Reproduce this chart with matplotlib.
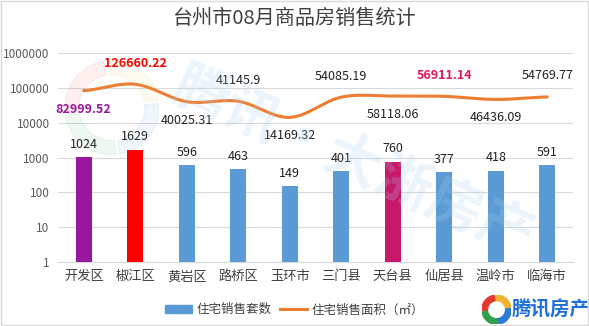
import numpy as np
import matplotlib

matplotlib.use("Agg")
import matplotlib.pyplot as plt
from matplotlib.patches import Wedge, Rectangle
from matplotlib.lines import Line2D

plt.rcParams["font.family"] = ["Noto Sans CJK SC", "DejaVu Sans"]

districts = ["开发区", "椒江区", "黄岩区", "路桥区", "玉环市", "三门县", "天台县", "仙居县", "温岭市", "临海市"]
units_sold = [1024, 1629, 596, 463, 149, 401, 760, 377, 418, 591]
area_sold = [82999.52, 126660.22, 40025.31, 41145.9, 14169.32, 54085.19, 58118.06, 56911.14, 46436.09, 54769.77]
area_label_above = [False, True, False, True, False, True, False, True, False, True]
area_label_colors = ["#9A169F", "#FF0000", "#222222", "#222222", "#222222",
                     "#222222", "#222222", "#E0185F", "#222222", "#222222"]
bar_colors = ["#9A169F", "#FF0000", "#5B9BD5", "#5B9BD5", "#5B9BD5",
              "#5B9BD5", "#C8186A", "#5B9BD5", "#5B9BD5", "#5B9BD5"]
y_ticks = [1, 10, 100, 1000, 10000, 100000, 1000000]


def smooth(x, y, n=20):
    """Catmull-Rom curve through the points (in log space for y)."""
    x = np.asarray(x, float)
    y = np.log10(np.asarray(y, float))
    px = np.concatenate([[2 * x[0] - x[1]], x, [2 * x[-1] - x[-2]]])
    py = np.concatenate([[y[0]], y, [y[-1]]])
    xs, ys = [], []
    for i in range(1, len(px) - 2):
        t = np.linspace(0, 1, n, endpoint=False)
        for arr, out in ((px, xs), (py, ys)):
            p0, p1, p2, p3 = arr[i - 1], arr[i], arr[i + 1], arr[i + 2]
            out.extend(0.5 * (2 * p1 + (-p0 + p2) * t
                              + (2 * p0 - 5 * p1 + 4 * p2 - p3) * t ** 2
                              + (-p0 + 3 * p1 - 3 * p2 + p3) * t ** 3))
    xs.append(x[-1])
    ys.append(y[-1])
    return np.array(xs), 10 ** np.array(ys)


def ring(rect, colors, alpha=1.0, width=0.4):
    """Four-colour ring drawn in its own square axes."""
    a = fig.add_axes(rect)
    a.set_xlim(-1, 1)
    a.set_ylim(-1, 1)
    a.set_aspect("equal")
    a.axis("off")
    for k, col in enumerate(colors):
        a.add_patch(Wedge((0, 0), 1, 90 * k + 10, 90 * k + 95, width=width,
                          color=col, alpha=alpha))
    return a


fig = plt.figure(figsize=(5.89, 3.26), dpi=100)
ax = fig.add_axes([58 / 589, 1 - 262 / 326, 515 / 589, 209 / 326])

x = np.arange(len(districts))
ax.bar(x, units_sold, width=0.31, color=bar_colors, zorder=3)
for xi, v in zip(x, units_sold):
    ax.text(xi, v * 1.55, str(v), ha="center", va="bottom", fontsize=9, color="#222222", zorder=5)

sx, sy = smooth(x, area_sold)
ax.plot(sx, sy, color="#ED7D31", lw=2.2, zorder=4, solid_capstyle="round")
for xi, v, up, c in zip(x, area_sold, area_label_above, area_label_colors):
    weight = "bold" if c != "#222222" else "normal"
    if up:
        ax.text(xi, v * 2.6, str(v), ha="center", va="bottom", fontsize=9, color=c,
                fontweight=weight, zorder=5)
    else:
        ax.text(xi, v / 2.2, str(v), ha="center", va="top", fontsize=9, color=c,
                fontweight=weight, zorder=5)

ax.set_yscale("log")
ax.set_ylim(1, 1000000)
ax.set_xlim(-0.5, len(districts) - 0.5)
ax.set_yticks(y_ticks)
ax.set_yticklabels([str(t) for t in y_ticks])
ax.minorticks_off()
ax.set_xticks(x)
ax.set_xticklabels(districts)
ax.tick_params(axis="y", length=0, labelsize=8.5, labelcolor="#595959", pad=6)
ax.tick_params(axis="x", length=0, labelsize=9.5, labelcolor="#404040", pad=6)
ax.grid(axis="y", color="#D9D9D9", lw=0.8, zorder=0)
for side in ("top", "right", "left"):
    ax.spines[side].set_visible(False)
ax.spines["bottom"].set_color("#D9D9D9")

# faint watermark across the plot
fig.text(0.6, 0.5, "腾讯·大浙房产", fontsize=40, color="#A9D0F0", alpha=0.22,
         rotation=-24, ha="center", va="center", fontweight="bold", style="italic", zorder=1)
wm = ring([0.11, 0.52, 0.16, 0.3], ["#F2C14E", "#E74C3C", "#3FA34D", "#4A90D9"],
          alpha=0.08, width=0.3)
wm.set_zorder(0)

fig.suptitle("台州市08月商品房销售统计", fontsize=14.5, color="#404040", y=0.975)

handles = [Rectangle((0, 0), 1, 1, color="#5B9BD5"),
           Line2D([0], [0], color="#ED7D31", lw=2.2)]
fig.legend(handles, ["住宅销售套数", "住宅销售面积（㎡）"], loc="lower center",
           bbox_to_anchor=(0.5, -0.005), ncol=2, frameon=False, fontsize=9,
           labelcolor="#404040", handlelength=2.2, columnspacing=0.6, handletextpad=0.4)

# brand mark in the corner
ring([0.818, 0.005, 0.05, 0.09], ["#F2B233", "#E23B2E", "#2FA14A", "#2E7BD3"], width=0.38)
fig.text(0.868, 0.05, "腾讯房产", fontsize=14, color="#1E6FD9", fontweight="bold",
         style="italic", ha="left", va="center")

fig.patches.append(Rectangle((0.002, 0.003), 0.996, 0.994, transform=fig.transFigure,
                             fill=False, edgecolor="#D9D9D9", lw=1))

fig.savefig("out.png", dpi=100)
